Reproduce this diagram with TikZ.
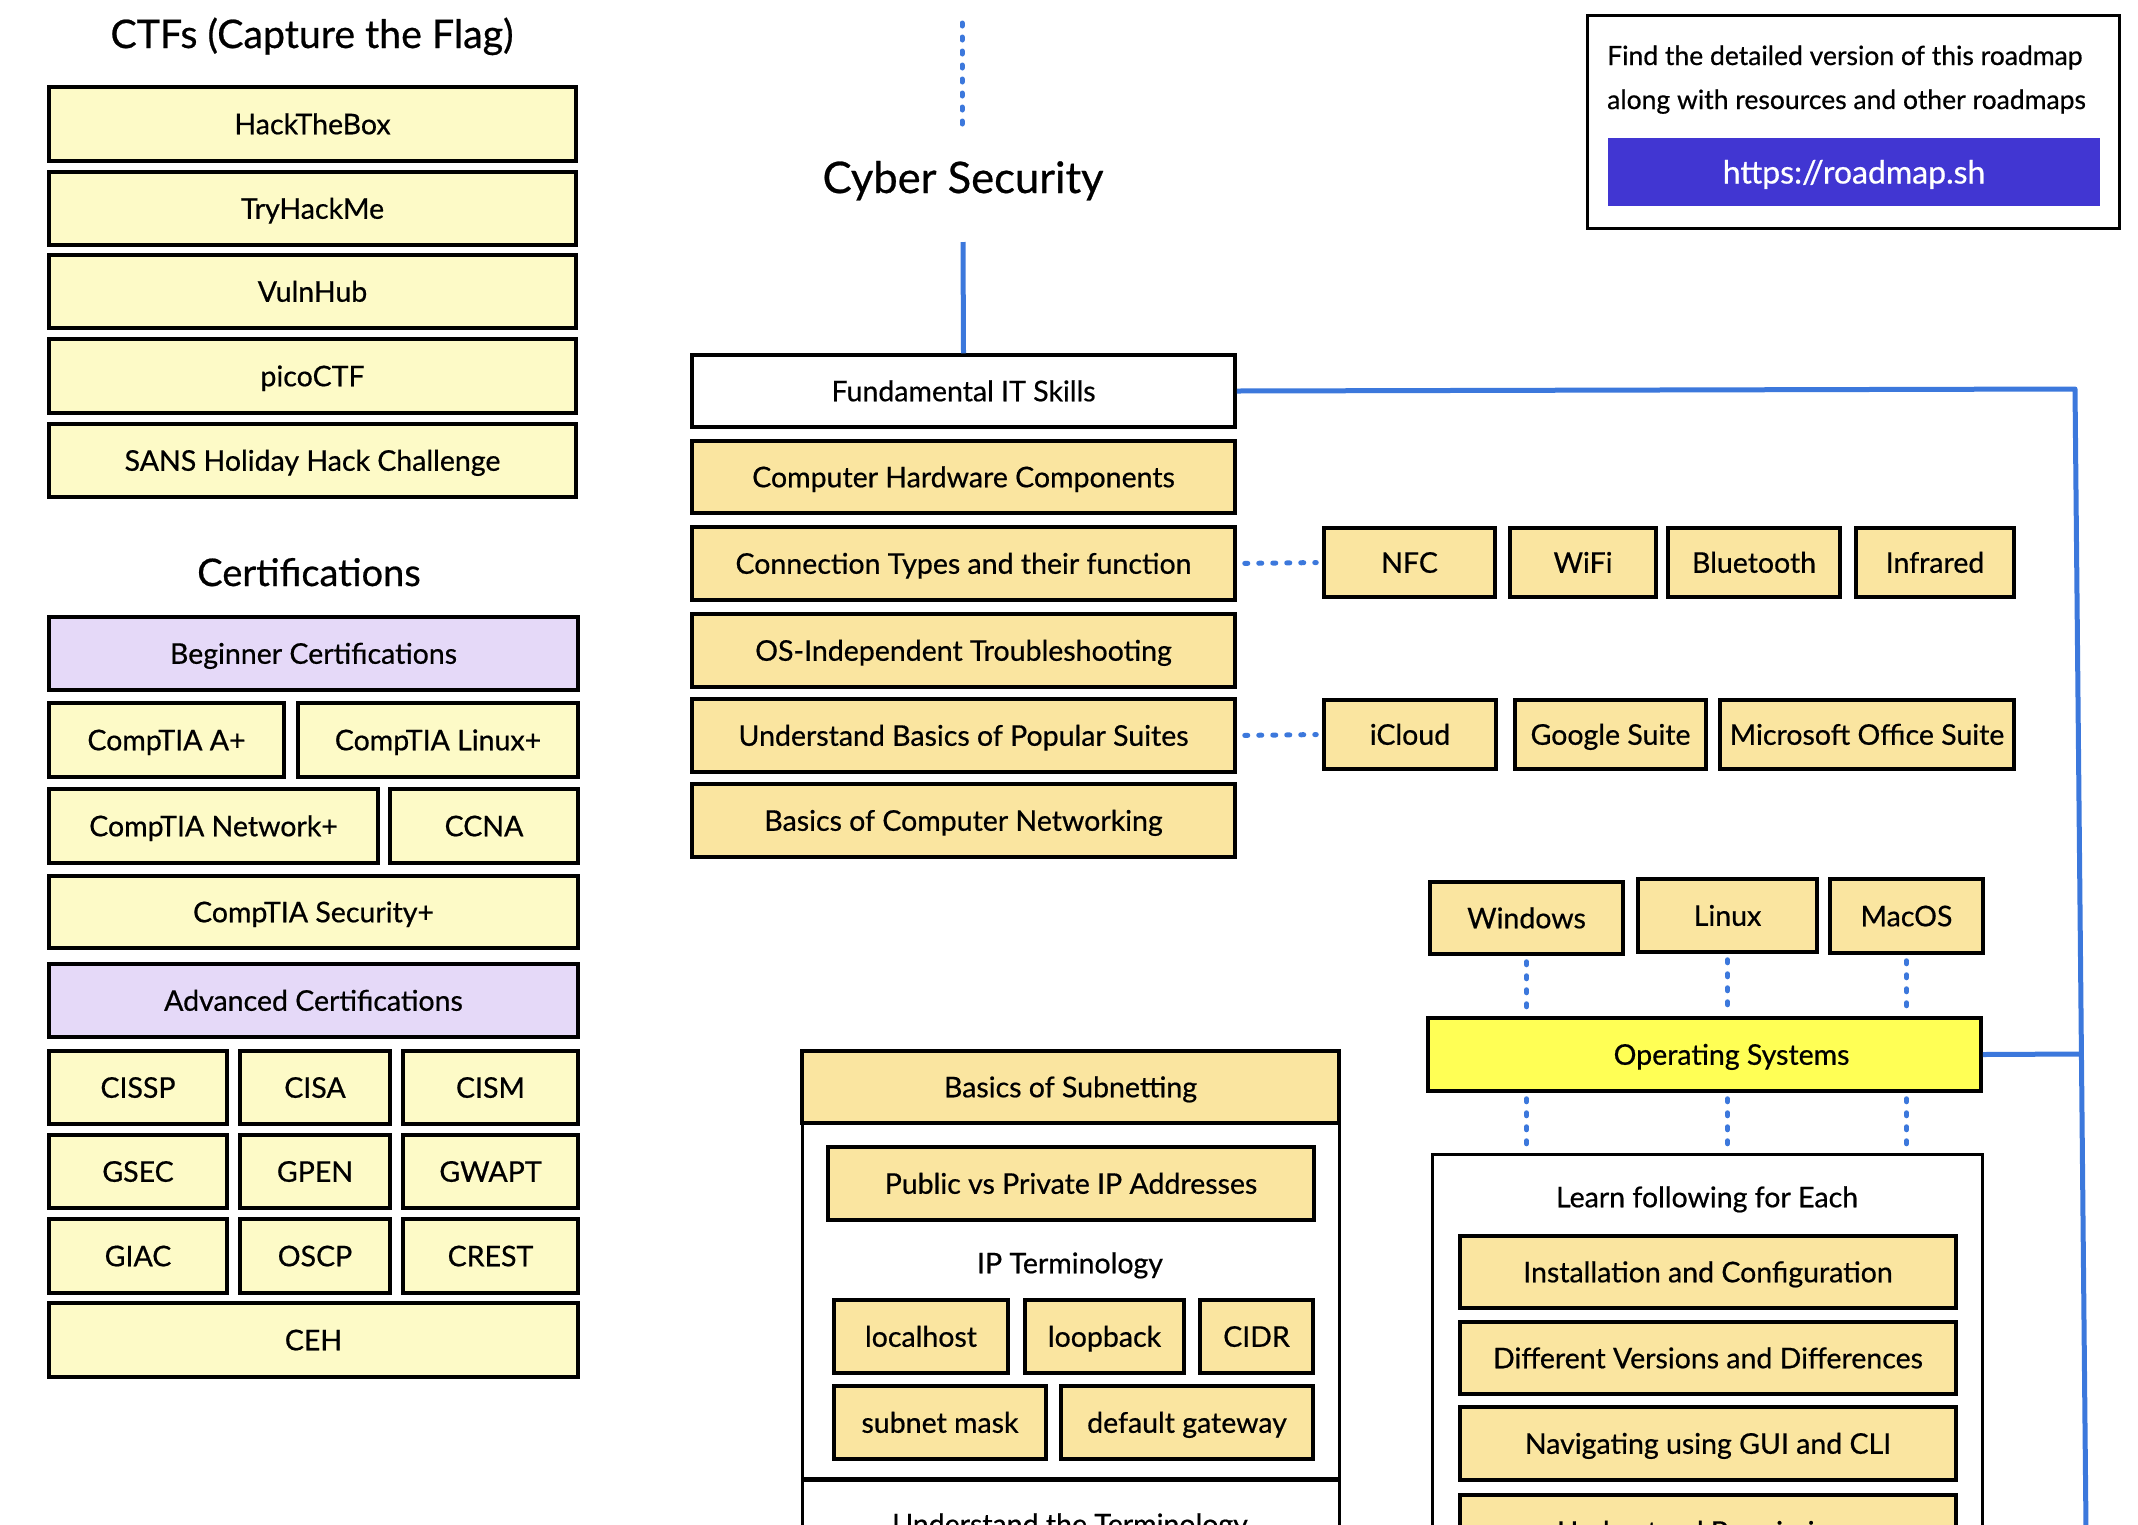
\documentclass[tikz,border=0pt]{standalone}
\usepackage{fontspec}
\setmainfont{Lato}[UprightFeatures={FakeBold=0.6}]
\definecolor{ctfy}{RGB}{253,250,199}
\definecolor{purp}{RGB}{229,217,248}
\definecolor{tanbox}{RGB}{250,229,160}
\definecolor{osy}{RGB}{255,255,85}
\definecolor{lineblue}{RGB}{60,120,220}
\definecolor{btnblue}{RGB}{65,54,210}
\tikzset{
  basebox/.style={draw=black, line width=3.5pt, inner sep=0pt, text height=20.5pt, text depth=0pt, font=\fontsize{28.5}{32}\selectfont},
  ctf/.style={basebox, fill=ctfy},
  certhead/.style={basebox, fill=purp},
  topic/.style={basebox, fill=tanbox},
  mainbox/.style={basebox, fill=white},
  ostopic/.style={basebox, fill=osy},
  container/.style={draw=black, line width=3pt, fill=white, inner sep=0pt},
  plain/.style={inner sep=0pt, text height=20.5pt, text depth=0pt, font=\fontsize{28.5}{32}\selectfont},
  heading/.style={inner sep=0pt, font=\fontsize{38}{42}\selectfont},
  infotext/.style={inner sep=0pt, font=\fontsize{26.5}{30}\selectfont},
  blueline/.style={draw=lineblue, line width=5pt},
  bluedots/.style={draw=lineblue, line width=5pt, line cap=round, dash pattern=on 3pt off 11pt},
}
\newcommand\bx[7]{%
  \pgfmathsetmacro\bxw{#5-#3}\pgfmathsetmacro\bxh{#6-#4}%
  \pgfmathsetmacro\bxcx{(#3+#5)/2}\pgfmathsetmacro\bxcy{(#4+#6)/2}%
  \node[#1, minimum width=\bxw pt, minimum height=\bxh pt] (#2) at (\bxcx,\bxcy) {#7};}
\begin{document}
\begin{tikzpicture}[x=1pt, y=-1pt]
\useasboundingbox (0,0) rectangle (2138,1524);
\clip (0,0) rectangle (2138,1524);
\fill[white] (0,0) rectangle (2138,1524);

% ---------- left column: CTFs ----------
\node[heading, font=\fontsize{39.3}{43}\selectfont, anchor=base] (ctftitle) at (312,48) {CTFs (Capture the Flag)};
\bx{ctf}{htb}{49}{87}{576}{161}{HackTheBox}
\bx{ctf}{thm}{49}{172}{576}{245}{TryHackMe}
\bx{ctf}{vuln}{49}{255}{576}{328}{VulnHub}
\bx{ctf}{pico}{49}{339}{576}{413}{picoCTF}
\bx{ctf}{sans}{49}{424}{576}{497}{SANS Holiday Hack Challenge}

% ---------- certifications ----------
\node[heading, anchor=base] (certtitle) at (309,586) {Certifications};
\bx{certhead}{beg}{49}{617}{578}{690}{Beginner Certifications}
\bx{ctf}{aplus}{49}{703}{284}{777}{CompTIA A+}
\bx{ctf}{linuxp}{298}{703}{578}{777}{CompTIA Linux+}
\bx{ctf}{netp}{49}{789}{378}{863}{CompTIA Network+}
\bx{ctf}{ccna}{390}{789}{578}{863}{CCNA}
\bx{ctf}{secp}{49}{876}{578}{948}{CompTIA Security+}
\bx{certhead}{adv}{49}{964}{578}{1037}{Advanced Certifications}
\bx{ctf}{cissp}{49}{1051}{227}{1124}{CISSP}
\bx{ctf}{cisa}{240}{1051}{390}{1124}{CISA}
\bx{ctf}{cism}{403}{1051}{578}{1124}{CISM}
\bx{ctf}{gsec}{49}{1135}{227}{1208}{GSEC}
\bx{ctf}{gpen}{240}{1135}{390}{1208}{GPEN}
\bx{ctf}{gwapt}{403}{1135}{578}{1208}{GWAPT}
\bx{ctf}{giac}{49}{1219}{227}{1293}{GIAC}
\bx{ctf}{oscp}{240}{1219}{390}{1293}{OSCP}
\bx{ctf}{crest}{403}{1219}{578}{1293}{CREST}
\bx{ctf}{ceh}{49}{1303}{578}{1377}{CEH}

% ---------- centre ----------
\coordinate (dtop) at (962,23);
\coordinate (dbot) at (962,124);
\draw[bluedots] (dtop) -- (dbot);
\node[inner sep=0pt, font=\fontsize{43.5}{48}\selectfont, anchor=base] (cyber) at (963,193) {Cyber Security};
\coordinate (cyberlow) at (963,242);

\bx{mainbox}{fund}{692}{355}{1235}{427}{Fundamental IT Skills}
\bx{topic}{hw}{692}{441}{1235}{513}{Computer Hardware Components}
\bx{topic}{conn}{692}{527}{1235}{600}{Connection Types and their function}
\bx{topic}{osind}{692}{614}{1235}{687}{OS-Independent Troubleshooting}
\bx{topic}{suites}{692}{699}{1235}{772}{Understand Basics of Popular Suites}
\bx{topic}{net}{692}{784}{1235}{857}{Basics of Computer Networking}

\bx{topic}{nfc}{1324}{528}{1495}{597}{NFC}
\bx{topic}{wifi}{1510}{528}{1656}{597}{WiFi}
\bx{topic}{bt}{1668}{528}{1840}{597}{Bluetooth}
\bx{topic}{ir}{1856}{528}{2014}{597}{Infrared}

\bx{topic}{icloud}{1324}{700}{1496}{769}{iCloud}
\bx{topic}{gsuite}{1515}{700}{1706}{769}{Google Suite}
\bx{topic}{msoffice}{1720}{700}{2014}{769}{Microsoft Office Suite}

% subnetting
\bx{container}{subcont}{802}{1123}{1339}{1478}{}
\bx{container}{termcont}{802}{1480}{1339}{1610}{}
\bx{topic}{subnet}{802}{1051}{1339}{1123}{Basics of Subnetting}
\bx{topic}{pubpriv}{828}{1147}{1314}{1220}{Public vs Private IP Addresses}
\node[plain] (ipterm) at (1070,1263) {IP Terminology};
\bx{topic}{localhost}{834}{1300}{1008}{1373}{localhost}
\bx{topic}{loopback}{1025}{1300}{1184}{1373}{loopback}
\bx{topic}{cidr}{1200}{1300}{1313}{1373}{CIDR}
\bx{topic}{smask}{834}{1386}{1046}{1459}{subnet mask}
\bx{topic}{gateway}{1061}{1386}{1313}{1459}{default gateway}
\node[plain] (termtext) at (1070,1524) {Understand the Terminology};

% operating systems
\bx{topic}{win}{1430}{882}{1623}{954}{Windows}
\bx{topic}{linux}{1638}{879}{1817}{952}{Linux}
\bx{topic}{mac}{1830}{879}{1983}{953}{MacOS}
\bx{ostopic}{os}{1428}{1018}{1981}{1091}{\hspace*{54pt}Operating Systems}
\bx{container}{learn}{1432}{1154}{1982}{1620}{}
\node[plain] (learntext) at (1707,1197) {Learn following for Each};
\bx{topic}{inst}{1460}{1236}{1956}{1308}{Installation and Configuration}
\bx{topic}{diff}{1460}{1322}{1956}{1394}{Different Versions and Differences}
\bx{topic}{navi}{1460}{1407}{1956}{1480}{Navigating using GUI and CLI}
\bx{topic}{perm}{1460}{1495}{1956}{1568}{Understand Permissions}

% info box
\bx{container}{info}{1587}{15}{2119}{228}{}
\node[infotext, anchor=base west] (info1) at (1607,65) {Find the detailed version of this roadmap};
\node[infotext, anchor=base west] (info2) at (1607,109) {along with resources and other roadmaps};
\bx{fill=btnblue, inner sep=0pt, text=white, text height=23pt, text depth=0pt, font=\fontsize{32}{36}\selectfont}{btn}{1608}{138}{2100}{206}{https://roadmap.sh}

% ---------- connectors ----------
\draw[blueline] (cyberlow) -- (fund.north);
\coordinate (bcorner) at (2075,389);
\coordinate (bbottom) at (2086,1530);
\draw[blueline, line join=round] (fund.east) -- (bcorner) -- (bbottom);
\coordinate (osjoin) at (2080,1054);
\draw[blueline] (os.east) -- (osjoin);

\draw[bluedots, shorten <=8pt, shorten >=6pt] (conn.east) -- (nfc.west);
\draw[bluedots, shorten <=8pt, shorten >=6pt] (suites.east) -- (icloud.west);

\foreach \n in {win,linux,mac}{
  \draw[bluedots, shorten <=6pt, shorten >=6pt] (\n.south) -- (\n.south |- os.north);
  \draw[bluedots, shorten <=6pt, shorten >=4pt] (\n.south |- os.south) -- (\n.south |- learn.north);
}
\end{tikzpicture}
\end{document}
